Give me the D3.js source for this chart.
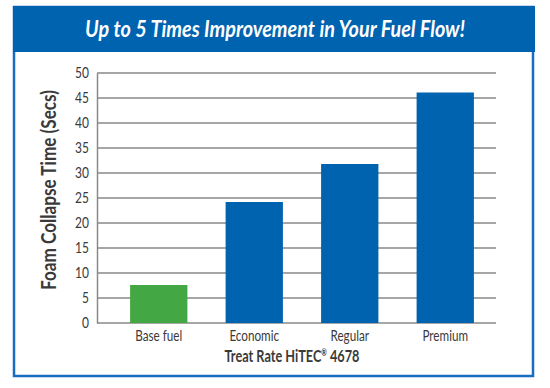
<!DOCTYPE html>
<html>
<head>
<meta charset="utf-8">
<script src="https://cdn.jsdelivr.net/npm/d3@7"></script>
<style>
  body { margin: 0; background: #fff; }
  text { font-family: Lato, "Open Sans", sans-serif; fill: #3a3a3a; }
</style>
</head>
<body>
<div id="chart"></div>
<script>
const categories = ["Base fuel", "Economic", "Regular", "Premium"];
const values = [7.6, 24.2, 31.8, 46.1];
const barColors = ["#43a843", "#0063b0", "#0063b0", "#0063b0"];
const yTicks = [0, 5, 10, 15, 20, 25, 30, 35, 40, 45, 50];

const width = 550, height = 388;
const svg = d3.select("#chart").append("svg")
    .attr("width", width)
    .attr("height", height);

// squeeze text horizontally to mimic the condensed face
function squeeze(sel, sx) {
    sel.each(function() {
        const t = d3.select(this);
        const tx = +t.attr("x") || 0;
        t.attr("x", tx / sx).attr("transform", `scale(${sx},1)`);
    });
}

// frame + header band
svg.append("rect")
    .attr("x", 14).attr("y", 7).attr("width", 519).attr("height", 369)
    .attr("fill", "#fff").attr("stroke", "#1a6cc2").attr("stroke-width", 2.5);
svg.append("rect")
    .attr("x", 13).attr("y", 6).attr("width", 522).attr("height", 46)
    .attr("fill", "#0063b0");
svg.append("text")
    .attr("x", 275).attr("y", 37)
    .attr("text-anchor", "middle")
    .attr("textLength", 380).attr("lengthAdjust", "spacingAndGlyphs")
    .style("font-size", "23px").style("font-weight", "bold").style("font-style", "italic")
    .style("fill", "#fff")
    .text("Up to 5 Times Improvement in Your Fuel Flow!");

const y = d3.scaleLinear().domain([0, 50]).range([323, 73]);
const x = d3.scaleBand().domain(categories).range([111, 493])
    .paddingInner(0.4).paddingOuter(0.2);

// gridlines
svg.append("g").selectAll("line")
    .data(yTicks)
    .enter().append("line")
    .attr("x1", 97).attr("x2", 496)
    .attr("y1", d => y(d)).attr("y2", d => y(d))
    .attr("stroke", "#888").attr("stroke-width", 1.5);

// y axis
const yAxis = svg.append("g")
    .attr("transform", "translate(97,0)")
    .call(d3.axisLeft(y).tickValues(yTicks).tickSize(0).tickPadding(8));
yAxis.select(".domain").attr("stroke", "#888").attr("stroke-width", 1.5);
yAxis.selectAll("text").style("font-size", "15px").style("fill", "#3a3a3a").attr("font-family", null);
squeeze(yAxis.selectAll("text"), 0.8);

// bars
svg.append("g").selectAll("rect")
    .data(values)
    .enter().append("rect")
    .attr("x", (d, i) => x(categories[i]))
    .attr("y", d => y(d))
    .attr("width", x.bandwidth())
    .attr("height", d => y(0) - y(d))
    .attr("fill", (d, i) => barColors[i]);

// x axis labels
const xAxis = svg.append("g")
    .attr("transform", "translate(0,323)")
    .call(d3.axisBottom(x).tickSize(0).tickPadding(7));
xAxis.select(".domain").remove();
xAxis.selectAll("text").style("font-size", "15px").style("fill", "#3a3a3a").attr("font-family", null);
squeeze(xAxis.selectAll("text"), 0.78);

const xTitle = svg.append("text")
    .attr("x", 292).attr("y", 362)
    .attr("text-anchor", "middle")
    .attr("textLength", 135).attr("lengthAdjust", "spacingAndGlyphs")
    .style("font-size", "17px").style("font-weight", "bold");
xTitle.append("tspan").text("Treat Rate HiTEC");
xTitle.append("tspan").attr("dy", -6).style("font-size", "9px").text("\u00AE");
xTitle.append("tspan").attr("dy", 6).text(" 4678");

svg.append("text")
    .attr("transform", "translate(56,190) rotate(-90)")
    .attr("text-anchor", "middle")
    .attr("textLength", 200).attr("lengthAdjust", "spacingAndGlyphs")
    .style("font-size", "20px").style("font-weight", "bold")
    .text("Foam Collapse Time (Secs)");
</script>
</body>
</html>
